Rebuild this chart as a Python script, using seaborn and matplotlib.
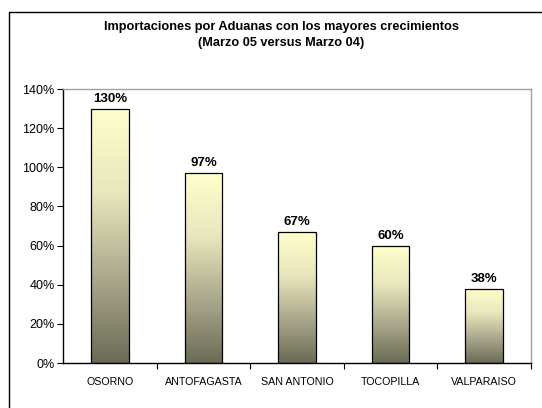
import matplotlib
matplotlib.use("Agg")
import matplotlib.pyplot as plt
import seaborn as sns
import numpy as np
import pandas as pd
from matplotlib.colors import LinearSegmentedColormap
from matplotlib.patches import Rectangle
from matplotlib.ticker import FuncFormatter, MultipleLocator, FixedLocator

categories = ["OSORNO", "ANTOFAGASTA", "SAN ANTONIO", "TOCOPILLA", "VALPARAISO"]
values = [130, 97, 67, 60, 38]
labels = ["130%", "97%", "67%", "60%", "38%"]

sns.set_theme(style="white")
plt.rcParams['font.family'] = ['Liberation Sans', 'DejaVu Sans']
plt.rcParams['text.color'] = 'black'

W, H = 542, 408
fig = plt.figure(figsize=(W / 100, H / 100), dpi=100)
ax = fig.add_axes([63 / W, 1 - 363 / H, (531 - 63) / W, (363 - 89) / H])

df = pd.DataFrame({"cat": categories, "val": values})
sns.barplot(data=df, x="cat", y="val", ax=ax, width=0.4, color="#ffffcc",
            edgecolor="black", linewidth=0.9, saturation=1)

cmap = LinearSegmentedColormap.from_list("g", ["#ffffcc", "#e8e6bc", "#aaa88c", "#6b6b55"])
grad = np.linspace(0, 1, 256).reshape(-1, 1)
for p in ax.patches:
    x0, y0 = p.get_x(), p.get_y()
    w, h = p.get_width(), p.get_height()
    im = ax.imshow(grad, cmap=cmap, extent=[x0, x0 + w, y0, y0 + h],
                   aspect="auto", zorder=p.get_zorder() - 0.1, vmin=0, vmax=1,
                   origin="upper")
    im.set_clip_path(p)
    p.set_facecolor("none")
    p.set_zorder(3)

for p, lab in zip(ax.patches, labels):
    ax.text(p.get_x() + p.get_width() / 2, p.get_height() + 2.0, lab,
            ha="center", va="bottom", fontsize=9.5, fontweight="bold", color="black")

ax.set_xlim(-0.5, 4.5)
ax.set_ylim(0, 140)
ax.yaxis.set_major_locator(MultipleLocator(20))
ax.yaxis.set_major_formatter(FuncFormatter(lambda v, _: f"{int(v)}%"))
ax.set_xlabel("")
ax.set_ylabel("")
ax.tick_params(axis="y", which="major", left=True, length=4, width=0.8,
               color="black", labelsize=9, pad=2, direction="out", labelcolor="black")
ax.tick_params(axis="x", which="major", bottom=False, labelsize=7.7, pad=4,
               labelcolor="black")
ax.xaxis.set_minor_locator(FixedLocator([0.5, 1.5, 2.5, 3.5, 4.5]))
ax.tick_params(axis="x", which="minor", bottom=True, length=4, width=0.8,
               color="black", direction="out")

for s in ["left", "bottom"]:
    ax.spines[s].set_color("black")
    ax.spines[s].set_linewidth(1.0)
for s in ["top", "right"]:
    ax.spines[s].set_color("#a0a0a0")
    ax.spines[s].set_linewidth(1.0)
    ax.spines[s].set_visible(True)

fig.text(0.5 + 10 / W, 1 - 27 / H, "Importaciones por Aduanas con los mayores crecimientos",
         ha="center", va="center", fontsize=9.2, fontweight="bold", color="black")
fig.text(0.5 + 10 / W, 1 - 43 / H, "(Marzo 05 versus Marzo 04)",
         ha="center", va="center", fontsize=9.2, fontweight="bold", color="black")

frame = Rectangle((8.5 / W, -0.05), 1.1, 1 - 11.5 / H + 0.05, transform=fig.transFigure,
                  fill=False, edgecolor="black", linewidth=1.0, clip_on=False)
fig.add_artist(frame)

fig.savefig("out.png", dpi=100)
